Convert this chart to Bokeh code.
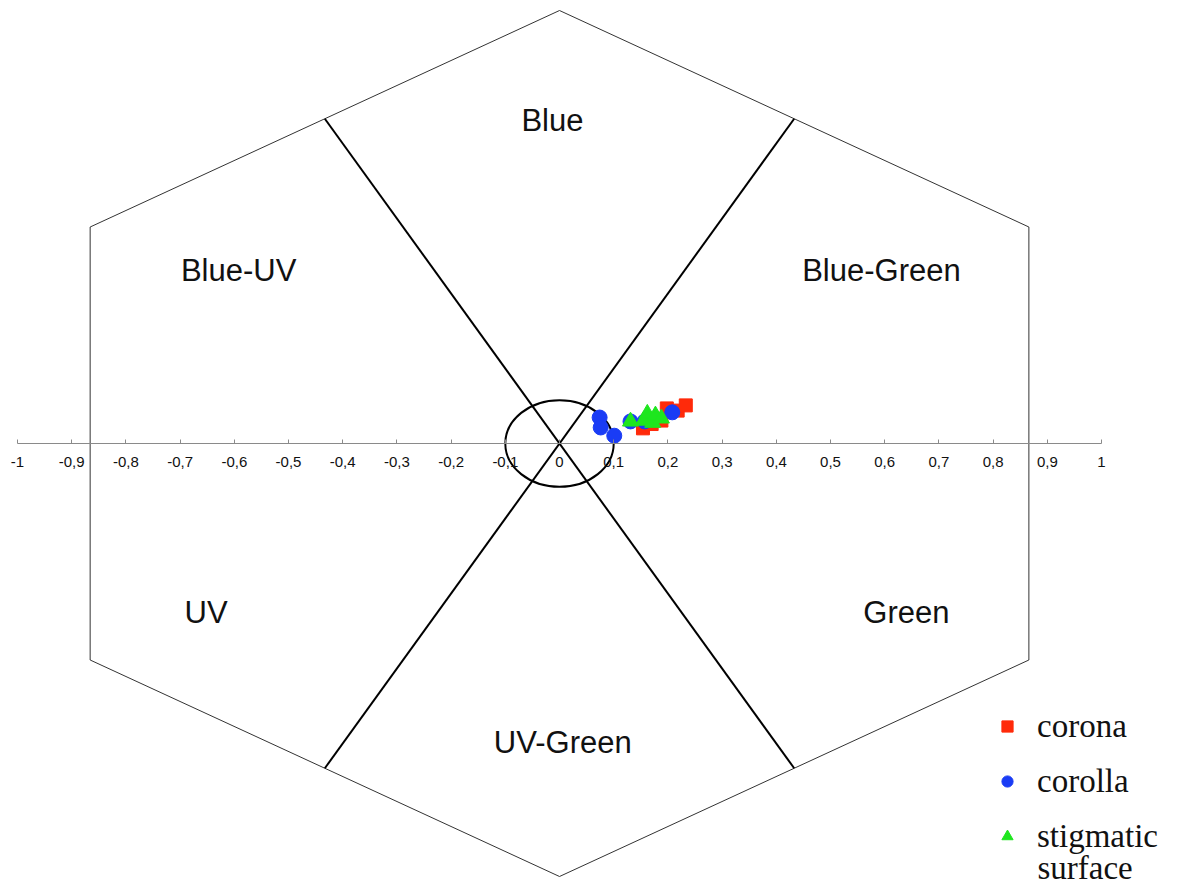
from bokeh.plotting import figure
from bokeh.models import FixedTicker, Legend, LegendItem, Label
from bokeh.core.properties import value
from bokeh.embed import file_html
from bokeh.resources import INLINE

# ---- data ----
corona_x = [0.154, 0.170, 0.188, 0.198, 0.218, 0.233]
corona_y = [0.035, 0.045, 0.053, 0.081, 0.076, 0.088]

corolla_x = [0.074, 0.076, 0.101, 0.131, 0.157, 0.208]
corolla_y = [0.060, 0.037, 0.018, 0.051, 0.051, 0.072]

stigma_x = [0.131, 0.155, 0.162, 0.172, 0.177, 0.188]
stigma_y = [0.051, 0.053, 0.069, 0.048, 0.065, 0.058]

# hexagon geometry (unit radius)
hex_x = [0.0, 0.866, 0.866, 0.0, -0.866, -0.866, 0.0]
hex_y = [1.0, 0.5, -0.5, -1.0, -0.5, 0.5, 1.0]
div1_x = [-0.433, 0.433]
div1_y = [-0.75, 0.75]
div2_x = [-0.433, 0.433]
div2_y = [0.75, -0.75]
circle_r = 0.1

region_labels = ["Blue", "Blue-UV", "Blue-Green", "UV", "Green", "UV-Green"]
region_x = [-0.013, -0.592, 0.594, -0.652, 0.640, 0.006]
region_y = [0.746, 0.400, 0.400, -0.390, -0.390, -0.690]

tick_values = [round(-1 + 0.1 * i, 1) for i in range(21)]
tick_labels = ["-1", "-0,9", "-0,8", "-0,7", "-0,6", "-0,5", "-0,4", "-0,3", "-0,2", "-0,1",
               "0", "0,1", "0,2", "0,3", "0,4", "0,5", "0,6", "0,7", "0,8", "0,9", "1"]

W, H = 1170, 888
p = figure(width=W, height=H, x_range=(-1.0314, 1.1273), y_range=(-1.0277, 1.0231),
           output_backend="svg", toolbar_location=None, min_border=0,
           background_fill_color="white", border_fill_color="white")
p.outline_line_color = None
p.grid.visible = False
p.yaxis.visible = False

ax = p.xaxis[0]
ax.fixed_location = 0
ax.bounds = (-1, 1)
ax.ticker = FixedTicker(ticks=tick_values, minor_ticks=[])
ax.major_label_overrides = {v: l for v, l in zip(tick_values, tick_labels)}
ax.axis_line_color = "#8a8a8a"
ax.axis_line_width = 1
ax.major_tick_line_color = "#8a8a8a"
ax.major_tick_in = 4
ax.major_tick_out = 0
ax.minor_tick_line_color = None
ax.major_label_standoff = 13
ax.major_label_text_font = "Liberation Sans"
ax.major_label_text_font_size = "15px"
ax.major_label_text_color = "#111111"

# hexagon
p.line(hex_x, hex_y, line_color="#333333", line_width=1)
p.line(div1_x, div1_y, line_color="black", line_width=2)
p.line(div2_x, div2_y, line_color="black", line_width=2)
p.ellipse(x=[0], y=[0], width=[2 * circle_r], height=[2 * circle_r],
          fill_color=None, line_color="black", line_width=2)

# region labels
p.text(x=region_x, y=region_y, text=region_labels, text_font=value("Liberation Sans"),
       text_font_size="31px", text_align="center", text_baseline="middle", text_color="#111111")

# data
r_corona = p.scatter(corona_x, corona_y, marker="square", size=13, fill_color="#ff2a0a",
                     line_color="#ff2a0a")
r_corolla = p.scatter(corolla_x, corolla_y, marker="circle", size=15, fill_color="#1a3cf5",
                      line_color="#1a3cf5")
r_stigma = p.scatter(stigma_x, stigma_y, marker="triangle", size=16, fill_color="#1ee61e",
                     line_color="#1ee61e")

legend = Legend(items=[LegendItem(label="corona", renderers=[r_corona]),
                       LegendItem(label="corolla", renderers=[r_corolla]),
                       LegendItem(label="stigmatic", renderers=[r_stigma])],
                location=(993, 32), orientation="vertical")
legend.background_fill_alpha = 0
legend.border_line_color = None
legend.padding = 0
legend.margin = 0
legend.spacing = 15
legend.glyph_width = 28
legend.glyph_height = 28
legend.label_height = 40
legend.label_standoff = 16
legend.label_text_font = "Liberation Serif"
legend.label_text_font_size = "33px"
legend.label_text_color = "#111111"
p.add_layout(legend, "center")

p.add_layout(Label(x=1037, y=21, x_units="screen", y_units="screen", text="surface",
                   text_font="Liberation Serif", text_font_size="33px", text_color="#111111",
                   text_baseline="middle"))

open("out.html", "w").write(file_html(p, INLINE))
